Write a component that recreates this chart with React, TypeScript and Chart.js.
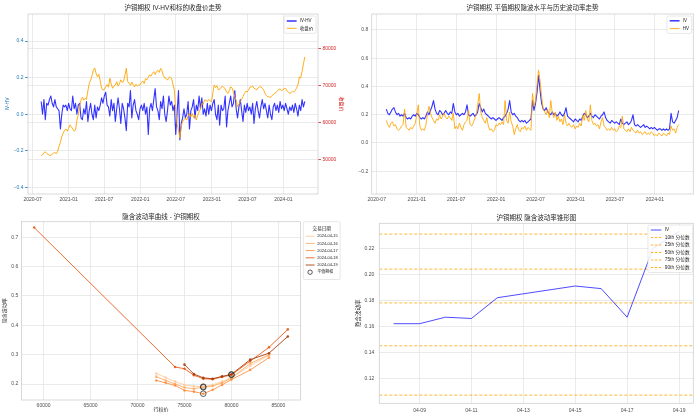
import React, { useEffect, useRef } from 'react';
import { Chart, registerables } from 'chart.js';

Chart.register(...registerables);

const FONT = "'Liberation Sans', 'Noto Sans CJK SC', Arial, sans-serif";
const GRID = '#e4e4e4';
const FRAME = '#cfcfcf';
const TEXT = '#262626';
const TICK_TEXT = '#4d4d4d';

// ---------------- data: weekly series (Fridays from WEEK_START) ----------------
const WEEK_START = '2020-08-14';

const IV_HV = [
  0.07, 0.00, 0.08, -0.03, 0.06, 0.05, 0.08, 0.10, 0.06, 0.04,
  0.08, 0.04, 0.03, 0.02, -0.08, 0.00, 0.05, 0.04, 0.05, 0.02,
  0.06, 0.03, 0.02, 0.10, 0.03, 0.06, 0.00, 0.05, 0.06, -0.02,
  -0.03, 0.03, 0.00, 0.07, -0.04, 0.02, 0.06, 0.00, -0.03, 0.05,
  -0.02, 0.04, 0.02, 0.05, 0.09, 0.06, 0.10, 0.12, 0.05, 0.04,
  -0.01, 0.08, 0.02, 0.06, -0.04, 0.03, 0.09, 0.03, -0.05, 0.06,
  0.03, -0.02, -0.09, 0.06, 0.04, 0.13, -0.02, 0.05, 0.08, 0.02,
  0.00, -0.03, 0.03, 0.05, 0.02, 0.06, 0.00, 0.04, -0.11, 0.03,
  0.06, 0.02, 0.08, 0.14, 0.04, 0.02, -0.03, 0.07, 0.03, 0.10,
  0.00, -0.04, 0.02, 0.10, 0.05, 0.07, 0.02, 0.05, -0.11, 0.01,
  0.13, -0.14, -0.05, -0.02, 0.03, -0.02, 0.00, 0.07, -0.08, 0.02,
  0.04, 0.08, -0.02, 0.05, 0.02, 0.10, 0.03, 0.09, 0.00, 0.03,
  -0.01, 0.06, 0.00, 0.05, 0.02, 0.06, 0.08, 0.00, -0.03, 0.05,
  -0.06, 0.05, 0.02, 0.03, 0.10, -0.07, 0.02, 0.06, 0.10, 0.04,
  0.06, 0.13, 0.03, -0.02, 0.04, 0.08, 0.02, -0.04, 0.05, 0.01,
  0.06, 0.02, 0.04, 0.00, 0.06, -0.05, 0.03, 0.07, 0.02, -0.02,
  0.04, 0.08, 0.03, 0.06, 0.02, -0.02, 0.05, 0.00, -0.03, 0.04,
  0.06, 0.02, 0.05, 0.01, 0.07, 0.03, 0.05, 0.02, 0.06, 0.03,
  0.00, 0.04, 0.02, 0.05, 0.01, 0.06, 0.03, -0.01, 0.05, 0.02,
  0.08, 0.04, 0.07,
];

const CLOSE_PRICE = [
  51000, 51200, 51800, 52000, 51600, 51300, 51100, 51000, 51400, 51700,
  51800, 51500, 52200, 53500, 54600, 56100, 57000, 57800, 58200, 57600,
  58400, 59300, 58800, 58200, 57600, 57900, 60500, 62000, 64500, 66000,
  66800, 66000, 66500, 66200, 68500, 70500, 71400, 72600, 74100, 74700,
  73200, 72300, 73000, 71200, 69200, 68700, 68900, 69600, 70200, 69500,
  71900, 70400, 69200, 69800, 70100, 71000, 69800, 70400, 71500, 70800,
  71000, 72800, 74600, 71000, 70600, 70000, 70900, 70200, 69600, 70300,
  69800, 70100, 70100, 70800, 71200, 70500, 71800, 71500, 72200, 72800,
  72500, 73200, 73700, 72900, 73700, 74100, 73500, 74600, 73900, 72600,
  72000, 71900, 71400, 72100, 72300, 71800, 70200, 68700, 63300, 59500,
  57900, 55700, 59000, 60200, 60800, 61100, 60600, 61800, 62400, 61500,
  62400, 61300, 62000, 60600, 61900, 62800, 63600, 65100, 64800, 66000,
  66000, 65600, 66200, 65800, 65600, 67800, 70100, 69400, 69900, 68800,
  68900, 69500, 69700, 69500, 69000, 68200, 67800, 68600, 69600, 69300,
  68200, 66900, 66000, 64200, 64800, 65600, 66200, 67000, 67800, 68400,
  68200, 68700, 69500, 69600, 69800, 69200, 69000, 68800, 69300, 69500,
  69700, 69200, 68800, 67800, 67200, 66900, 66900, 66700, 67200, 67500,
  67800, 68100, 68400, 68900, 69000, 68600, 68800, 69100, 69200, 68500,
  68200, 67800, 68000, 68400, 68200, 68600, 69300, 70100, 72300, 72000,
  73700, 75800, 77700,
];

const ATM_IV = [
  0.24, 0.21, 0.20, 0.22, 0.24, 0.25, 0.22, 0.20, 0.21, 0.19,
  0.20, 0.19, 0.21, 0.18, 0.17, 0.18, 0.17, 0.19, 0.20, 0.19,
  0.21, 0.20, 0.18, 0.17, 0.18, 0.17, 0.19, 0.22, 0.20, 0.23,
  0.26, 0.30, 0.24, 0.21, 0.20, 0.23, 0.22, 0.20, 0.21, 0.23,
  0.21, 0.20, 0.22, 0.21, 0.28, 0.22, 0.20, 0.21, 0.19, 0.20,
  0.21, 0.20, 0.22, 0.27, 0.20, 0.19, 0.20, 0.21, 0.19, 0.20,
  0.22, 0.28, 0.25, 0.22, 0.24, 0.21, 0.20, 0.19, 0.18, 0.17,
  0.18, 0.17, 0.16, 0.17, 0.18, 0.17, 0.16, 0.18, 0.19, 0.21,
  0.24, 0.30, 0.22, 0.20, 0.21, 0.19, 0.18, 0.16, 0.15, 0.16,
  0.15, 0.16, 0.14, 0.15, 0.16, 0.17, 0.30, 0.23, 0.28, 0.36,
  0.48, 0.37, 0.28, 0.24, 0.23, 0.25, 0.22, 0.21, 0.20, 0.22,
  0.20, 0.21, 0.19, 0.20, 0.22, 0.20, 0.19, 0.21, 0.25, 0.19,
  0.18, 0.17, 0.16, 0.15, 0.17, 0.16, 0.15, 0.17, 0.16, 0.19,
  0.21, 0.20, 0.18, 0.19, 0.21, 0.19, 0.18, 0.20, 0.19, 0.18,
  0.17, 0.19, 0.20, 0.22, 0.18, 0.16, 0.15, 0.14, 0.16, 0.15,
  0.14, 0.15, 0.14, 0.13, 0.17, 0.14, 0.13, 0.14, 0.15, 0.13,
  0.14, 0.16, 0.20, 0.13, 0.12, 0.13, 0.12, 0.11, 0.12, 0.13,
  0.11, 0.12, 0.11, 0.10, 0.11, 0.10, 0.11, 0.10, 0.09, 0.10,
  0.10, 0.09, 0.10, 0.09, 0.10, 0.09, 0.10, 0.21, 0.15, 0.14,
  0.16, 0.18, 0.23,
];

const HIST_VOL = [
  0.16, 0.13, 0.11, 0.14, 0.15, 0.12, 0.13, 0.10, 0.09, 0.10,
  0.12, 0.13, 0.24, 0.11, 0.10, 0.09, 0.11, 0.10, 0.12, 0.14,
  0.20, 0.27, 0.12, 0.09, 0.10, 0.09, 0.13, 0.20, 0.26, 0.21,
  0.18, 0.16, 0.14, 0.17, 0.16, 0.20, 0.17, 0.19, 0.21, 0.18,
  0.17, 0.19, 0.18, 0.16, 0.21, 0.10, 0.12, 0.10, 0.14, 0.11,
  0.09, 0.13, 0.15, 0.16, 0.23, 0.13, 0.12, 0.14, 0.17, 0.20,
  0.27, 0.35, 0.22, 0.18, 0.16, 0.14, 0.18, 0.12, 0.09, 0.10,
  0.08, 0.09, 0.13, 0.12, 0.14, 0.13, 0.15, 0.13, 0.30, 0.16,
  0.14, 0.22, 0.15, 0.12, 0.06, 0.10, 0.13, 0.09, 0.08, 0.11,
  0.10, 0.12, 0.09, 0.11, 0.10, 0.09, 0.35, 0.26, 0.30, 0.42,
  0.515, 0.44, 0.33, 0.24, 0.22, 0.20, 0.24, 0.18, 0.30, 0.21,
  0.18, 0.22, 0.16, 0.19, 0.15, 0.17, 0.13, 0.20, 0.14, 0.12,
  0.14, 0.12, 0.11, 0.13, 0.10, 0.12, 0.11, 0.14, 0.12, 0.20,
  0.16, 0.23, 0.17, 0.15, 0.27, 0.16, 0.13, 0.14, 0.12, 0.13,
  0.10, 0.15, 0.18, 0.12, 0.11, 0.09, 0.10, 0.09, 0.11, 0.09,
  0.10, 0.08, 0.09, 0.12, 0.11, 0.19, 0.10, 0.09, 0.08, 0.10,
  0.08, 0.11, 0.09, 0.08, 0.07, 0.09, 0.07, 0.08, 0.06, 0.07,
  0.08, 0.06, 0.07, 0.06, 0.08, 0.07, 0.05, 0.06, 0.05, 0.07,
  0.06, 0.05, 0.07, 0.06, 0.05, 0.07, 0.06, 0.12, 0.09, 0.10,
  0.07, 0.11, 0.13,
];

const DATE_TICK_LABELS = ['2020-07', '2021-01', '2021-07', '2022-01', '2022-07', '2023-01', '2023-07', '2024-01'];
const IV_HV_TICKS = [-0.4, -0.2, 0, 0.2, 0.4];
const PRICE_TICKS = [50000, 60000, 70000, 80000];
const VOL_TICKS = [-0.2, 0, 0.2, 0.4, 0.6, 0.8];

// ---------------- data: volatility smile ----------------
const SMILE_DATES = ['2024-04-15', '2024-04-16', '2024-04-17', '2024-04-18', '2024-04-19'];
const STRIKES_0415 = [72000, 73000, 74000, 75000, 76000, 77000, 78000, 79000, 80000, 82000, 84000];
const IVS_0415 = [0.236, 0.222, 0.208, 0.197, 0.192, 0.191, 0.197, 0.208, 0.222, 0.262, 0.298];
const STRIKES_0416 = [72000, 73000, 74000, 75000, 76000, 77000, 78000, 79000, 80000, 82000, 84000];
const IVS_0416 = [0.225, 0.212, 0.200, 0.188, 0.184, 0.189, 0.193, 0.204, 0.220, 0.270, 0.300];
const STRIKES_0417 = [72000, 73000, 74000, 75000, 76000, 77000, 78000, 79000, 80000, 82000, 84000];
const IVS_0417 = [0.212, 0.204, 0.195, 0.178, 0.174, 0.167, 0.180, 0.197, 0.215, 0.248, 0.290];
const STRIKES_0418 = [59000, 74000, 75000, 76000, 77000, 78000, 79000, 80000, 82000, 84000, 86000];
const IVS_0418 = [0.733, 0.258, 0.252, 0.230, 0.218, 0.216, 0.224, 0.231, 0.278, 0.325, 0.386];
const STRIKES_0419 = [75000, 76000, 77000, 78000, 79000, 80000, 82000, 84000, 86000];
const IVS_0419 = [0.266, 0.234, 0.221, 0.218, 0.226, 0.233, 0.283, 0.305, 0.362];
const ATM_STRIKES = [77000, 77000, 77000, 80000, 80000];
const ATM_IVS = [0.191, 0.189, 0.167, 0.231, 0.233];
const STRIKE_TICKS = [60000, 65000, 70000, 75000, 80000, 85000];
const SMILE_IV_TICKS = [0.2, 0.3, 0.4, 0.5, 0.6, 0.7];

// ---------------- data: IV cone ----------------
const CONE_DATES = ['04-08', '04-09', '04-10', '04-11', '04-12', '04-15', '04-16', '04-17', '04-18', '04-19'];
const CONE_IV = [0.162, 0.162, 0.167, 0.166, 0.182, 0.191, 0.189, 0.167, 0.220, 0.233];
const QUANTILE_LABELS = ['10th 分位数', '25th 分位数', '50th 分位数', '75th 分位数', '90th 分位数'];
const QUANTILE_VALUES = [0.107, 0.145, 0.178, 0.204, 0.231];
const CONE_TICK_LABELS = ['04-09', '04-11', '04-13', '04-15', '04-17', '04-19'];
const CONE_IV_TICKS = [0.12, 0.14, 0.16, 0.18, 0.20, 0.22];

// ---------------- helpers ----------------
const DAY_MS = 86400000;
const dayOf = (s: string) =>
  Date.UTC(+s.slice(0, 4), +s.slice(5, 7) - 1, s.length > 7 ? +s.slice(8, 10) : 1) / DAY_MS;

const WEEK_X = IV_HV.map((_, i) => dayOf(WEEK_START) + 7 * i);
const DATE_TICK_VALUES = DATE_TICK_LABELS.map((l) => dayOf(l));
const SPAN_MARGIN = (WEEK_X[WEEK_X.length - 1] - WEEK_X[0]) * 0.05;
const TS_MIN = WEEK_X[0] - SPAN_MARGIN;
const TS_MAX = WEEK_X[WEEK_X.length - 1] + SPAN_MARGIN;

const coneDay = (s: string) => +s.slice(3, 5);

const fmt = (d: number) => (v: number) => (v < -1e-9 ? '\u2212' : '') + Math.abs(v).toFixed(d);
const fixedTicks = (values: number[]) => (scale: any) => {
  scale.ticks = values.map((v) => ({ value: v }));
};
const font = (size: number) => ({ family: FONT, size });

const framePlugin = {
  id: 'frame',
  afterDatasetsDraw(chart: any) {
    const { ctx, chartArea: a } = chart;
    ctx.save();
    ctx.strokeStyle = FRAME;
    ctx.lineWidth = 0.8;
    ctx.strokeRect(a.left, a.top, a.right - a.left, a.bottom - a.top);
    ctx.restore();
  },
};

interface LegendItem {
  label: string;
  color: string;
  lineWidth?: number;
  dash?: number[];
  circle?: boolean;
}
interface LegendOpts {
  items: LegendItem[];
  fontSize: number;
  rowH: number;
  firstRow: number;
  title?: string;
  titleSize?: number;
  side: 'inside' | 'outside';
  dx: number;
  dy: number;
}

function boxLegend(o: LegendOpts) {
  return {
    id: 'boxLegend',
    afterDraw(chart: any) {
      const { ctx, chartArea } = chart;
      const f = o.fontSize;
      const pad = 0.6 * f;
      const handle = 2.2 * f;
      const gap = 0.7 * f;
      ctx.save();
      ctx.font = `${f}px ${FONT}`;
      let textW = 0;
      for (const it of o.items) textW = Math.max(textW, ctx.measureText(it.label).width);
      let w = pad + handle + gap + textW + pad;
      if (o.title) {
        ctx.font = `${o.titleSize || f}px ${FONT}`;
        w = Math.max(w, ctx.measureText(o.title).width + 2 * pad);
      }
      const rows = o.items.length + (o.title ? 1 : 0);
      const h = o.firstRow * 2 + o.rowH * (rows - 1);
      const x = o.side === 'inside' ? chartArea.right - o.dx - w : chartArea.right + o.dx;
      const y = chartArea.top + o.dy;
      ctx.beginPath();
      if (ctx.roundRect) ctx.roundRect(x, y, w, h, 1.5);
      else ctx.rect(x, y, w, h);
      ctx.fillStyle = 'rgba(255,255,255,0.85)';
      ctx.fill();
      ctx.strokeStyle = '#d6d6d6';
      ctx.lineWidth = 0.6;
      ctx.stroke();
      ctx.textBaseline = 'middle';
      let cy = y + o.firstRow;
      if (o.title) {
        ctx.font = `${o.titleSize || f}px ${FONT}`;
        ctx.fillStyle = TEXT;
        ctx.textAlign = 'center';
        ctx.fillText(o.title, x + w / 2, cy);
        cy += o.rowH;
      }
      ctx.font = `${f}px ${FONT}`;
      ctx.textAlign = 'left';
      for (const it of o.items) {
        const hx = x + pad;
        if (it.circle) {
          ctx.beginPath();
          ctx.arc(hx + handle / 2, cy, 2.2, 0, Math.PI * 2);
          ctx.strokeStyle = it.color;
          ctx.lineWidth = 0.9;
          ctx.stroke();
        } else {
          ctx.beginPath();
          ctx.setLineDash(it.dash || []);
          ctx.moveTo(hx, cy);
          ctx.lineTo(hx + handle, cy);
          ctx.strokeStyle = it.color;
          ctx.lineWidth = it.lineWidth || 1;
          ctx.stroke();
          ctx.setLineDash([]);
        }
        ctx.fillStyle = TEXT;
        ctx.fillText(it.label, hx + handle + gap, cy);
        cy += o.rowH;
      }
      ctx.restore();
    },
  };
}

const baseOptions = (titleText: string, titlePad: { top: number; bottom: number }, padRight: number) => ({
  animation: false as const,
  responsive: false,
  devicePixelRatio: 1,
  layout: { padding: { left: 0, right: padRight, top: 0, bottom: 0 } },
  plugins: {
    legend: { display: false },
    tooltip: { enabled: false },
    title: {
      display: true,
      text: titleText,
      fullSize: false,
      color: TEXT,
      font: { family: FONT, size: 6.5, weight: 'normal' as const },
      padding: titlePad,
    },
  },
});

const dateAxis = (height: number) => ({
  type: 'linear' as const,
  min: TS_MIN,
  max: TS_MAX,
  afterBuildTicks: fixedTicks(DATE_TICK_VALUES),
  ticks: {
    font: font(5),
    color: TICK_TEXT,
    maxRotation: 0,
    minRotation: 0,
    autoSkip: false,
    padding: 3,
    callback: (_v: any, i: number) => DATE_TICK_LABELS[i],
  },
  grid: { color: GRID, lineWidth: 0.8, drawTicks: false },
  border: { display: false },
  afterFit: (s: any) => {
    s.height = height;
  },
});

// ---------------- chart configs ----------------
const LW = 350;
const TOP_H = 208;
const BOT_H = 211;

function buildTopLeft(): any {
  const BLUE = 'rgba(0,0,255,0.8)';
  const ORANGE = 'rgba(255,165,0,0.9)';
  return {
    type: 'line',
    data: {
      datasets: [
        {
          label: 'IV-HV',
          data: WEEK_X.map((x, i) => ({ x, y: IV_HV[i] })),
          yAxisID: 'y',
          borderColor: BLUE,
          borderWidth: 1.1,
          pointRadius: 0,
          borderJoinStyle: 'round',
          order: 2,
        },
        {
          label: '收盘价',
          data: WEEK_X.map((x, i) => ({ x, y: CLOSE_PRICE[i] })),
          yAxisID: 'y1',
          borderColor: ORANGE,
          borderWidth: 1,
          pointRadius: 0,
          borderJoinStyle: 'round',
          order: 1,
        },
      ],
    },
    options: {
      ...baseOptions('沪铜期权 IV-HV和标的收盘价走势', { top: 4.5, bottom: 1.7 }, 0),
      scales: {
        x: dateAxis(TOP_H - 194),
        y: {
          position: 'left',
          min: -0.436,
          max: 0.548,
          afterBuildTicks: fixedTicks(IV_HV_TICKS),
          ticks: { font: font(5), color: '#1f77b4', padding: 1.5, callback: fmt(1) },
          grid: { color: GRID, lineWidth: 0.8, tickLength: 3, tickColor: '#1f77b4' },
          border: { display: false },
          title: { display: true, text: 'IV-HV', color: '#1f77b4', font: font(5), padding: { top: 5, bottom: 0 } },
          afterFit: (s: any) => {
            s.width = 28;
          },
        },
        y1: {
          position: 'right',
          min: 40600,
          max: 89300,
          afterBuildTicks: fixedTicks(PRICE_TICKS),
          ticks: { font: font(5), color: '#d62728', padding: 1.5, callback: (v: number) => String(v) },
          grid: { color: GRID, lineWidth: 0.8, tickLength: 3, tickColor: '#d62728', drawOnChartArea: true },
          border: { display: false },
          title: { display: true, text: '收盘价', color: '#d62728', font: font(5), padding: { top: 6, bottom: 0 } },
          afterFit: (s: any) => {
            s.width = LW - 318;
          },
        },
      },
    },
    plugins: [
      framePlugin,
      boxLegend({
        items: [
          { label: 'IV-HV', color: BLUE, lineWidth: 1.5 },
          { label: '收盘价', color: ORANGE, lineWidth: 1 },
        ],
        fontSize: 4.5,
        rowH: 7.3,
        firstRow: 5,
        side: 'inside',
        dx: 2,
        dy: 2,
      }),
    ],
  };
}

function buildTopRight(): any {
  const BLUE = 'rgba(0,0,255,0.8)';
  const ORANGE = 'rgba(255,165,0,0.85)';
  return {
    type: 'line',
    data: {
      datasets: [
        {
          label: 'IV',
          data: WEEK_X.map((x, i) => ({ x, y: ATM_IV[i] })),
          borderColor: BLUE,
          borderWidth: 1.1,
          pointRadius: 0,
          borderJoinStyle: 'round',
          order: 2,
        },
        {
          label: 'HV',
          data: WEEK_X.map((x, i) => ({ x, y: HIST_VOL[i] })),
          borderColor: ORANGE,
          borderWidth: 1,
          pointRadius: 0,
          borderJoinStyle: 'round',
          order: 1,
        },
      ],
    },
    options: {
      ...baseOptions('沪铜期权 平值期权隐波水平与历史波动率走势', { top: 4.5, bottom: 1.7 }, LW - 343.3),
      scales: {
        x: dateAxis(TOP_H - 194),
        y: {
          position: 'left',
          min: -0.361,
          max: 0.913,
          afterBuildTicks: fixedTicks(VOL_TICKS),
          ticks: { font: font(5), color: TICK_TEXT, padding: 3.4, callback: fmt(1) },
          grid: { color: GRID, lineWidth: 0.8, drawTicks: false },
          border: { display: false },
          afterFit: (s: any) => {
            s.width = 21.7;
          },
        },
      },
    },
    plugins: [
      framePlugin,
      boxLegend({
        items: [
          { label: 'IV', color: BLUE, lineWidth: 1.5 },
          { label: 'HV', color: ORANGE, lineWidth: 1 },
        ],
        fontSize: 4.5,
        rowH: 7.8,
        firstRow: 4.8,
        side: 'inside',
        dx: 1.6,
        dy: 2,
      }),
    ],
  };
}

const SMILE_COLORS = [
  'rgba(253,208,162,0.95)',
  'rgba(253,174,107,0.9)',
  'rgba(253,141,60,0.85)',
  'rgba(230,85,13,0.85)',
  'rgba(166,54,3,0.85)',
];

function buildBottomLeft(): any {
  const strikes = [STRIKES_0415, STRIKES_0416, STRIKES_0417, STRIKES_0418, STRIKES_0419];
  const ivs = [IVS_0415, IVS_0416, IVS_0417, IVS_0418, IVS_0419];
  const allStrikes = strikes.flat();
  const sMin = Math.min(...allStrikes);
  const sMax = Math.max(...allStrikes);
  const sMargin = (sMax - sMin) * 0.05;
  const datasets: any[] = SMILE_DATES.map((d, k) => ({
    label: d,
    data: strikes[k].map((x, i) => ({ x, y: ivs[k][i] })),
    borderColor: SMILE_COLORS[k],
    backgroundColor: SMILE_COLORS[k],
    borderWidth: 1,
    pointRadius: 1.3,
    pointBorderWidth: 0,
    pointBackgroundColor: SMILE_COLORS[k],
    order: 10 - k,
  }));
  datasets.push({
    label: '平值期权',
    data: ATM_STRIKES.map((x, i) => ({ x, y: ATM_IVS[i] })),
    showLine: false,
    pointRadius: 2.8,
    pointBorderWidth: 0.9,
    pointBorderColor: 'rgba(40,40,40,0.85)',
    pointBackgroundColor: 'rgba(0,0,0,0)',
    order: 0,
  });
  return {
    type: 'line',
    data: { datasets },
    options: {
      ...baseOptions('隐含波动率曲线 - 沪铜期权', { top: 5.1, bottom: 0.8 }, LW - 300.5),
      scales: {
        x: {
          type: 'linear',
          min: sMin - sMargin,
          max: sMax + sMargin,
          afterBuildTicks: fixedTicks(STRIKE_TICKS),
          ticks: { font: font(5), color: TICK_TEXT, maxRotation: 0, autoSkip: false, padding: 3, callback: (v: number) => String(v) },
          grid: { color: GRID, lineWidth: 0.8, drawTicks: false },
          border: { display: false },
          title: { display: true, text: '行权价', color: TEXT, font: font(5), padding: { top: 0, bottom: 6 } },
          afterFit: (s: any) => {
            s.height = BOT_H - 192;
          },
        },
        y: {
          position: 'left',
          min: 0.1455,
          max: 0.753,
          afterBuildTicks: fixedTicks(SMILE_IV_TICKS),
          ticks: { font: font(5), color: TICK_TEXT, padding: 3.2, callback: fmt(1) },
          grid: { color: GRID, lineWidth: 0.8, drawTicks: false },
          border: { display: false },
          title: { display: true, text: '隐含波动率', color: TEXT, font: font(5), padding: { top: 2, bottom: 0 } },
          afterFit: (s: any) => {
            s.width = 21.5;
          },
        },
      },
    },
    plugins: [
      framePlugin,
      boxLegend({
        title: '交易日期',
        titleSize: 4.6,
        items: [
          ...SMILE_DATES.map((d, k) => ({ label: d, color: SMILE_COLORS[k], lineWidth: 1 })),
          { label: '平值期权', color: 'rgba(40,40,40,0.85)', circle: true },
        ],
        fontSize: 4,
        rowH: 7.2,
        firstRow: 7.3,
        side: 'outside',
        dx: 2.8,
        dy: 0,
      }),
    ],
  };
}

function buildBottomRight(): any {
  const IV_COLOR = 'rgba(0,0,255,0.7)';
  const Q_COLOR = 'rgba(255,165,0,0.8)';
  const days = CONE_DATES.map(coneDay);
  const dMargin = (days[days.length - 1] - days[0]) * 0.05;
  const xMin = days[0] - dMargin;
  const xMax = days[days.length - 1] + dMargin;
  const allY = [...CONE_IV, ...QUANTILE_VALUES];
  const yLo = Math.min(...allY);
  const yHi = Math.max(...allY);
  const yMargin = (yHi - yLo) * 0.05;
  const datasets: any[] = [
    {
      label: 'IV',
      data: days.map((x, i) => ({ x, y: CONE_IV[i] })),
      borderColor: IV_COLOR,
      borderWidth: 1,
      pointRadius: 0,
      order: 0,
    },
    ...QUANTILE_LABELS.map((l, k) => ({
      label: l,
      data: [
        { x: xMin, y: QUANTILE_VALUES[k] },
        { x: xMax, y: QUANTILE_VALUES[k] },
      ],
      borderColor: Q_COLOR,
      borderWidth: 1,
      borderDash: [3, 2],
      pointRadius: 0,
      order: 1,
    })),
  ];
  return {
    type: 'line',
    data: { datasets },
    options: {
      ...baseOptions('沪铜期权 隐含波动率锥形图', { top: 6.1, bottom: 1.4 }, LW - 343.3),
      scales: {
        x: {
          type: 'linear',
          min: xMin,
          max: xMax,
          afterBuildTicks: fixedTicks(CONE_TICK_LABELS.map(coneDay)),
          ticks: {
            font: font(5),
            color: TICK_TEXT,
            maxRotation: 0,
            autoSkip: false,
            padding: 4.5,
            callback: (_v: any, i: number) => CONE_TICK_LABELS[i],
          },
          grid: { color: GRID, lineWidth: 0.8, drawTicks: false },
          border: { display: false },
          afterFit: (s: any) => {
            s.height = BOT_H - 195.3;
          },
        },
        y: {
          position: 'left',
          min: yLo - yMargin,
          max: yHi + yMargin,
          afterBuildTicks: fixedTicks(CONE_IV_TICKS),
          ticks: { font: font(5), color: TICK_TEXT, padding: 5, callback: fmt(2) },
          grid: { color: GRID, lineWidth: 0.8, drawTicks: false },
          border: { display: false },
          title: { display: true, text: '隐含波动率', color: TEXT, font: font(5.5), padding: { top: 5, bottom: 0 } },
          afterFit: (s: any) => {
            s.width = 29.3;
          },
        },
      },
    },
    plugins: [
      framePlugin,
      boxLegend({
        items: [
          { label: 'IV', color: IV_COLOR, lineWidth: 1 },
          ...QUANTILE_LABELS.map((l) => ({ label: l, color: Q_COLOR, lineWidth: 1, dash: [2.5, 1.5] })),
        ],
        fontSize: 4.8,
        rowH: 7.5,
        firstRow: 5,
        side: 'inside',
        dx: 0.6,
        dy: 1.7,
      }),
    ],
  };
}

// ---------------- components ----------------
function ChartBox(props: { left: number; top: number; width: number; height: number; build: () => any }) {
  const ref = useRef<HTMLCanvasElement>(null);
  useEffect(() => {
    const chart = new Chart(ref.current as HTMLCanvasElement, props.build());
    return () => chart.destroy();
  }, []);
  return (
    <canvas
      ref={ref}
      width={props.width}
      height={props.height}
      style={{ position: 'absolute', left: props.left, top: props.top, width: props.width, height: props.height }}
    />
  );
}

export default function App() {
  return (
    <div
      style={{
        position: 'fixed',
        left: 0,
        top: 0,
        width: 700,
        height: 419,
        background: '#ffffff',
        overflow: 'hidden',
      }}
    >
      <ChartBox left={0} top={0} width={LW} height={TOP_H} build={buildTopLeft} />
      <ChartBox left={350} top={0} width={LW} height={TOP_H} build={buildTopRight} />
      <ChartBox left={0} top={TOP_H} width={LW} height={BOT_H} build={buildBottomLeft} />
      <ChartBox left={350} top={TOP_H} width={LW} height={BOT_H} build={buildBottomRight} />
    </div>
  );
}
